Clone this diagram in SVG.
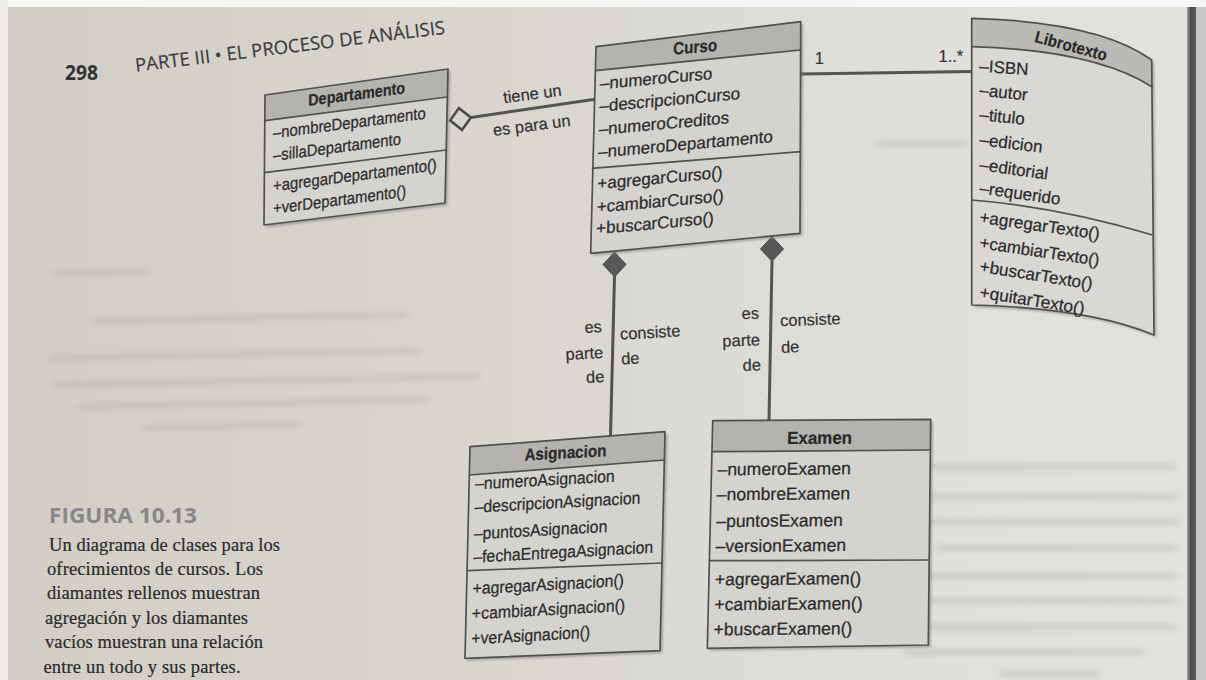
<svg xmlns="http://www.w3.org/2000/svg" width="1206" height="680" viewBox="0 0 1206 680">
  <defs>
    <linearGradient id="page" x1="0" y1="0" x2="1" y2="0">
      <stop offset="0" stop-color="#d1cec6"/>
      <stop offset="0.45" stop-color="#d9d7d0"/>
      <stop offset="0.8" stop-color="#e1e0dc"/>
      <stop offset="1" stop-color="#e3e2df"/>
    </linearGradient>
    <linearGradient id="edge" x1="0" y1="0" x2="1" y2="0">
      <stop offset="0" stop-color="#a4a4a2"/>
      <stop offset="0.4" stop-color="#4a4a4a"/>
      <stop offset="1" stop-color="#5c5c5c"/>
    </linearGradient>
    <filter id="soft" x="-10%" y="-100%" width="120%" height="300%">
      <feGaussianBlur stdDeviation="3.5 2.2"/>
    </filter>
    <filter id="blur1" x="-10%" y="-10%" width="120%" height="120%">
      <feGaussianBlur stdDeviation="1.3"/>
    </filter>
    <style>
      .body{fill:#d4d3cf}
      .hdr{fill:#b4b3af}
      .edge{fill:none;stroke:#515151;stroke-width:1.7;stroke-linejoin:round}
      .sep{fill:none;stroke:#515151;stroke-width:1.7}
      .shd{fill:#7f7e7a;opacity:.55;filter:url(#blur1)}
      .tx{font-family:"Liberation Sans",Arial,Helvetica,sans-serif;fill:#2c2c2c;stroke:#2c2c2c;stroke-width:0.25}
      .h{font-weight:bold;text-anchor:middle;fill:#2a2a2a}
      .conn{stroke:#545454;stroke-width:3;fill:none}
      .dfill{fill:#585858;stroke:#4c4c4c;stroke-width:1}
      .dhollow{fill:#d8d6cf;stroke:#4c4c4c;stroke-width:2.6}
      .lbl{font-family:"Liberation Sans",Arial,Helvetica,sans-serif;font-size:16.5px;fill:#333;stroke:#333;stroke-width:0.2}
      .ghost{fill:#b2afa8;opacity:.32;filter:url(#soft)}
      .cap{font-family:"Liberation Serif","Times New Roman",serif;font-size:18.5px;fill:#2a2a2a;stroke:#2a2a2a;stroke-width:0.2}
    </style>
  </defs>

  <!-- page -->
  <rect width="1206" height="680" fill="url(#page)"/>
  <rect x="0" y="0" width="1206" height="7" fill="#f6f6f5"/>
  <rect x="0" y="0" width="8" height="680" fill="#eeedea"/>
  <rect x="1187" y="7" width="9" height="673" fill="url(#edge)"/>
  <rect x="1196" y="7" width="10" height="673" fill="#c6c6c4"/>

  <!-- show-through from the facing page -->
  <g transform="rotate(-1.2 250 350)">
    <rect class="ghost" x="53" y="266" width="100" height="7" rx="3"/>
    <rect class="ghost" x="93" y="314" width="317" height="8" rx="3"/>
    <rect class="ghost" x="50" y="350" width="370" height="8" rx="3"/>
    <rect class="ghost" x="50" y="377" width="430" height="8" rx="3"/>
    <rect class="ghost" x="77" y="399" width="350" height="8" rx="3"/>
    <rect class="ghost" x="143" y="422" width="157" height="7" rx="3"/>
  </g>
  <g>
    <rect class="ghost" x="870" y="463" width="305" height="8" rx="3"/>
    <rect class="ghost" x="890" y="493" width="288" height="8" rx="3"/>
    <rect class="ghost" x="862" y="518" width="318" height="8" rx="3"/>
    <rect class="ghost" x="935" y="544" width="243" height="8" rx="3"/>
    <rect class="ghost" x="915" y="572" width="262" height="8" rx="3"/>
    <rect class="ghost" x="890" y="597" width="287" height="8" rx="3"/>
    <rect class="ghost" x="915" y="623" width="262" height="8" rx="3"/>
    <rect class="ghost" x="905" y="648" width="240" height="8" rx="3"/>
    <rect class="ghost" x="1000" y="670" width="100" height="8" rx="3"/>
    <rect class="ghost" x="877" y="139" width="90" height="9" rx="3"/>
  </g>

  <!-- running head -->
  <text x="65" y="80" font-family="'Open Sans','Liberation Sans',sans-serif" font-weight="bold" font-size="22" fill="#333" textLength="33" lengthAdjust="spacingAndGlyphs">298</text>
  <text x="136" y="71.7" transform="rotate(-7 136 71.7)" font-family="'Open Sans','Liberation Sans',sans-serif" font-size="18.5" fill="#3c3c3c" stroke="#3c3c3c" stroke-width="0.2" textLength="312">PARTE III • EL PROCESO DE ANÁLISIS</text>

  <!-- connectors -->
  <g id="connectors">
    <line class="conn" x1="471" y1="117.5" x2="595" y2="99.3"/>
    <line class="conn" x1="801" y1="74" x2="972" y2="71.5"/>
    <line class="conn" x1="614.5" y1="276" x2="610.5" y2="436.5"/>
    <line class="conn" x1="772" y1="261" x2="769" y2="420.5"/>
    <polygon class="dhollow" transform="translate(460.5 119) rotate(-8)" points="-10.5,0 0,-11 10.5,0 0,11"/>
    <polygon class="dfill" points="603,264.5 614.5,252 626,264.5 614.5,277"/>
    <polygon class="dfill" points="760.5,249 772,236.5 783.5,249 772,261.5"/>
    <text class="lbl" x="532.3" y="99.5" text-anchor="middle" transform="rotate(-7.5 532.3 94)">tiene un</text>
    <text class="lbl" x="531.7" y="131" text-anchor="middle" transform="rotate(-7.5 531.7 125.7)">es para un</text>
    <text class="lbl" x="819.3" y="63.5" text-anchor="middle">1</text>
    <text class="lbl" x="963.3" y="61.7" text-anchor="end">1..*</text>
    <g transform="rotate(-3 612 350)">
      <text class="lbl" x="603" y="331.7" text-anchor="end">es</text>
      <text class="lbl" x="603" y="357.5" text-anchor="end">parte</text>
      <text class="lbl" x="603" y="381.7" text-anchor="end">de</text>
      <text class="lbl" x="620.7" y="340">consiste</text>
      <text class="lbl" x="620.7" y="365">de</text>
    </g>
    <g transform="rotate(-2 770 340)">
      <text class="lbl" x="760" y="318.3" text-anchor="end">es</text>
      <text class="lbl" x="760" y="345" text-anchor="end">parte</text>
      <text class="lbl" x="760" y="370" text-anchor="end">de</text>
      <text class="lbl" x="780.7" y="326.7">consiste</text>
      <text class="lbl" x="780.7" y="353.3">de</text>
    </g>
  </g>

  <!-- Departamento -->
  <g id="departamento">
    <polygon class="shd" points="267.5,97.5 450.5,71.5 447.5,205.5 266.5,227.5"/>
    <polygon class="body" points="265,95 448,69 445,203 264,225"/>
    <polygon class="hdr" points="265,95 448,69 447,97 265,120.7"/>
    <line class="sep" x1="265" y1="120.7" x2="447" y2="97"/>
    <line class="sep" x1="264.5" y1="172.7" x2="446" y2="150"/>
    <polygon class="edge" points="265,95 448,69 445,203 264,225"/>
    <g transform="matrix(1,-0.13,0,1,265,95)">
      <text class="tx h" x="91.7" y="16.5" font-size="16.5" textLength="97" lengthAdjust="spacingAndGlyphs">Departamento</text>
      <g transform="scale(0.9 1)" font-size="16.5">
        <text class="tx" x="8.9" y="44.5">–nombreDepartamento</text>
        <text class="tx" x="8.9" y="67">–sillaDepartamento</text>
        <text class="tx" x="8.9" y="97.5">+agregarDepartamento()</text>
        <text class="tx" x="8.9" y="120">+verDepartamento()</text>
      </g>
    </g>
  </g>

  <!-- Curso -->
  <g id="curso">
    <polygon class="shd" points="598.5,49.2 803.2,24.2 802.5,235.8 593.2,255.8"/>
    <polygon class="body" points="596,46.7 800.7,21.7 800,233.3 590.7,253.3"/>
    <polygon class="hdr" points="596,46.7 800.7,21.7 800.6,50 595.4,70.7"/>
    <line class="sep" x1="595.4" y1="70.7" x2="800.6" y2="50"/>
    <line class="sep" x1="591.7" y1="168.3" x2="800.2" y2="151.7"/>
    <polygon class="edge" points="596,46.7 800.7,21.7 800,233.3 590.7,253.3"/>
    <g transform="matrix(1,-0.09,-0.026,1,596,46.7)">
      <text class="tx h" x="99.4" y="15" font-size="17.5" textLength="44" lengthAdjust="spacingAndGlyphs">Curso</text>
      <g font-size="17">
        <text class="tx" x="5" y="43">–numeroCurso</text>
        <text class="tx" x="5" y="65.5">–descripcionCurso</text>
        <text class="tx" x="5" y="88.8">–numeroCreditos</text>
        <text class="tx" x="5" y="111.5">–numeroDepartamento</text>
        <text class="tx" x="5" y="143">+agregarCurso()</text>
        <text class="tx" x="5" y="166.5">+cambiarCurso()</text>
        <text class="tx" x="5" y="188">+buscarCurso()</text>
      </g>
    </g>
  </g>

  <!-- Librotexto -->
  <g id="librotexto">
    <path class="shd" transform="translate(2.5 2.5)" d="M971.7,18.3 Q1100,22 1151.7,60 L1154,335 Q1090,308 971.7,305 Z"/>
    <path class="body" d="M971.7,18.3 Q1100,22 1151.7,60 L1154,335 Q1090,308 971.7,305 Z" style="fill:#d9d8d5"/>
    <path class="hdr" d="M971.7,18.3 Q1100,22 1151.7,60 L1152.7,87.3 Q1095,50 971.7,46.7 Z" style="fill:#bbbab6"/>
    <path class="sep" d="M971.7,46.7 Q1095,50 1152.7,87.3"/>
    <path class="sep" d="M971.7,200 Q1060,207 1152.7,235"/>
    <path class="edge" d="M971.7,18.3 Q1100,22 1151.7,60 L1154,335 Q1090,308 971.7,305 Z"/>
    <text class="tx h" transform="translate(1071 46) rotate(15)" x="0" y="5.5" font-size="16.5" textLength="74" lengthAdjust="spacingAndGlyphs">Librotexto</text>
    <g font-size="17">
      <text class="tx" x="979" y="71.7" transform="rotate(4 979 71.7)">–ISBN</text>
      <text class="tx" x="979" y="95.5" transform="rotate(6 979 95.5)">–autor</text>
      <text class="tx" x="979" y="120" transform="rotate(6 979 120)">–titulo</text>
      <text class="tx" x="979" y="145" transform="rotate(7 979 145)">–edicion</text>
      <text class="tx" x="979" y="170" transform="rotate(8 979 170)">–editorial</text>
      <text class="tx" x="979" y="193.5" transform="rotate(8 979 193.5)">–requerido</text>
      <text class="tx" x="979" y="222.7" transform="rotate(8 979 222.7)" textLength="121" lengthAdjust="spacingAndGlyphs">+agregarTexto()</text>
      <text class="tx" x="979" y="248" transform="rotate(8.5 979 248)" textLength="121" lengthAdjust="spacingAndGlyphs">+cambiarTexto()</text>
      <text class="tx" x="979" y="271.7" transform="rotate(9 979 271.7)" textLength="114" lengthAdjust="spacingAndGlyphs">+buscarTexto()</text>
      <text class="tx" x="979" y="297.7" transform="rotate(9 979 297.7)" textLength="106" lengthAdjust="spacingAndGlyphs">+quitarTexto()</text>
    </g>
  </g>

  <!-- Asignacion -->
  <g id="asignacion">
    <polygon class="shd" points="472.5,449.2 667.5,434.2 662.5,653.2 467.5,660.8"/>
    <polygon class="body" points="470,446.7 665,431.7 660,650.7 465,658.3"/>
    <polygon class="hdr" points="470,446.7 665,431.7 664.5,460 469.5,475"/>
    <line class="sep" x1="469.5" y1="475" x2="664.5" y2="460"/>
    <line class="sep" x1="467" y1="570.7" x2="662" y2="563"/>
    <polygon class="edge" points="470,446.7 665,431.7 660,650.7 465,658.3"/>
    <g transform="matrix(1,-0.055,-0.024,1,470,446.7)">
      <text class="tx h" x="95.8" y="17" font-size="17" textLength="82" lengthAdjust="spacingAndGlyphs">Asignacion</text>
      <g transform="scale(0.93 1)" font-size="17">
        <text class="tx" x="6.45" y="43">–numeroAsignacion</text>
        <text class="tx" x="6.45" y="66.3">–descripcionAsignacion</text>
        <text class="tx" x="6.45" y="93">–puntosAsignacion</text>
        <text class="tx" x="6.45" y="116.3">–fechaEntregaAsignacion</text>
        <text class="tx" x="6.45" y="148">+agregarAsignacion()</text>
        <text class="tx" x="6.45" y="173">+cambiarAsignacion()</text>
        <text class="tx" x="6.45" y="198">+verAsignacion()</text>
      </g>
    </g>
  </g>

  <!-- Examen -->
  <g id="examen">
    <polygon class="shd" points="715.2,423.2 933.2,421.8 930.8,647.5 709.8,650.8"/>
    <polygon class="body" points="712.7,420.7 930.7,419.3 928.3,645 707.3,648.3"/>
    <polygon class="hdr" points="712.7,420.7 930.7,419.3 929.7,450 711.7,451.7"/>
    <line class="sep" x1="711.7" y1="451.7" x2="929.7" y2="450"/>
    <line class="sep" x1="709.5" y1="560.7" x2="929" y2="560"/>
    <polygon class="edge" points="712.7,420.7 930.7,419.3 928.3,645 707.3,648.3"/>
    <g transform="matrix(1,-0.008,-0.0237,1,712.7,420.7)">
      <text class="tx h" x="107.3" y="24" font-size="17.5" textLength="65" lengthAdjust="spacingAndGlyphs">Examen</text>
      <g font-size="17.5">
        <text class="tx" x="6" y="54.7">–numeroExamen</text>
        <text class="tx" x="6" y="79.7">–nombreExamen</text>
        <text class="tx" x="6" y="106.4">–puntosExamen</text>
        <text class="tx" x="6" y="131.4">–versionExamen</text>
        <text class="tx" x="6" y="164.7">+agregarExamen()</text>
        <text class="tx" x="6" y="189.7">+cambiarExamen()</text>
        <text class="tx" x="6" y="214.7">+buscarExamen()</text>
      </g>
    </g>
  </g>

  <!-- figure caption -->
  <g id="caption">
    <text x="49" y="523" font-family="'Open Sans','Liberation Sans',sans-serif" font-weight="bold" font-size="21" fill="#888" textLength="148" lengthAdjust="spacingAndGlyphs">FIGURA 10.13</text>
    <text class="cap" x="49" y="551" textLength="231">Un diagrama de clases para los</text>
    <text class="cap" x="47" y="575" textLength="216">ofrecimientos de cursos. Los</text>
    <text class="cap" x="47" y="599" textLength="213">diamantes rellenos muestran</text>
    <text class="cap" x="45" y="623.5" textLength="203">agregación y los diamantes</text>
    <text class="cap" x="45" y="648" textLength="218">vacíos muestran una relación</text>
    <text class="cap" x="43.5" y="672.5" textLength="197">entre un todo y sus partes.</text>
  </g>
</svg>
